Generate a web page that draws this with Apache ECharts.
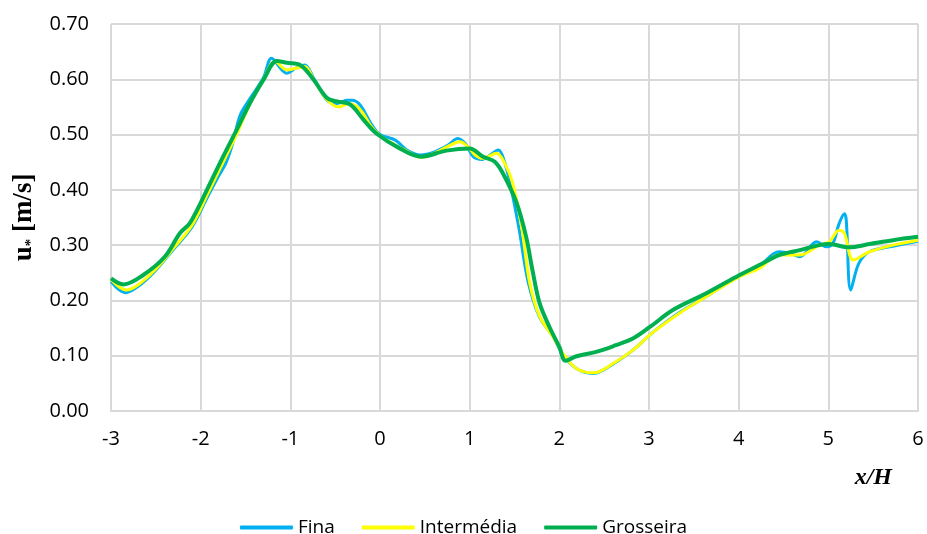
<!DOCTYPE html>
<html>
<head>
<meta charset="utf-8">
<script src="https://cdn.jsdelivr.net/npm/echarts@6/dist/echarts.min.js"></script>
<style>
  html, body { margin: 0; padding: 0; background: #fff; }
  #chart { width: 927px; height: 534px; }
</style>
</head>
<body>
<div id="chart"></div>
<script>
// Friction velocity u* along x/H for three mesh resolutions
const seriesNames = ['Fina', 'Intermédia', 'Grosseira'];
const seriesColors = ['#00b0f0', '#ffff00', '#00b050'];

const finaX = [-3, -2.84, -2.7, -2.51, -2.3, -2.1, -1.93, -1.8, -1.72, -1.65, -1.56, -1.45, -1.3, -1.21, -1.1, -1.04, -0.94, -0.84, -0.74, -0.59, -0.48, -0.37, -0.31, -0.22, -0.1, 0, 0.17, 0.3, 0.45, 0.6, 0.75, 0.87, 0.96, 1.04, 1.14, 1.23, 1.32, 1.38, 1.45, 1.55, 1.65, 1.78, 1.93, 2.04, 2.19, 2.38, 2.6, 2.82, 3.05, 3.34, 3.64, 4.01, 4.23, 4.45, 4.58, 4.68, 4.87, 4.98, 5.05, 5.12, 5.18, 5.2, 5.25, 5.34, 5.46, 5.72, 6];
const finaY = [0.234, 0.214, 0.225, 0.253, 0.293, 0.332, 0.385, 0.425, 0.448, 0.48, 0.535, 0.565, 0.603, 0.638, 0.618, 0.611, 0.62, 0.626, 0.602, 0.562, 0.556, 0.562, 0.562, 0.553, 0.52, 0.5, 0.49, 0.472, 0.463, 0.468, 0.48, 0.493, 0.482, 0.46, 0.455, 0.463, 0.472, 0.455, 0.412, 0.33, 0.235, 0.17, 0.135, 0.102, 0.077, 0.068, 0.085, 0.11, 0.143, 0.178, 0.207, 0.245, 0.262, 0.288, 0.285, 0.279, 0.306, 0.297, 0.303, 0.339, 0.357, 0.345, 0.219, 0.267, 0.288, 0.298, 0.307];

const interX = [-3, -2.83, -2.7, -2.51, -2.3, -2.1, -1.93, -1.75, -1.6, -1.45, -1.3, -1.17, -1.04, -0.94, -0.84, -0.74, -0.6, -0.46, -0.35, -0.22, -0.1, 0, 0.17, 0.3, 0.45, 0.6, 0.75, 0.89, 0.98, 1.06, 1.15, 1.3, 1.4, 1.48, 1.58, 1.67, 1.78, 1.93, 2.04, 2.19, 2.38, 2.6, 2.82, 3.05, 3.34, 3.64, 4.01, 4.23, 4.45, 4.68, 4.9, 5.01, 5.12, 5.18, 5.28, 5.46, 5.72, 6];
const interY = [0.238, 0.219, 0.228, 0.255, 0.295, 0.335, 0.39, 0.45, 0.5, 0.555, 0.6, 0.632, 0.617, 0.62, 0.623, 0.6, 0.565, 0.55, 0.556, 0.545, 0.515, 0.498, 0.481, 0.47, 0.459, 0.466, 0.478, 0.487, 0.478, 0.463, 0.457, 0.466, 0.445, 0.412, 0.333, 0.231, 0.171, 0.134, 0.104, 0.077, 0.069, 0.086, 0.11, 0.143, 0.177, 0.207, 0.243, 0.258, 0.282, 0.282, 0.3, 0.306, 0.327, 0.321, 0.273, 0.288, 0.3, 0.309];

const grossX = [-3, -2.86, -2.64, -2.4, -2.23, -2.12, -1.93, -1.75, -1.6, -1.45, -1.3, -1.15, -1.04, -0.89, -0.74, -0.59, -0.48, -0.33, -0.18, -0.04, 0.22, 0.46, 0.74, 1, 1.15, 1.28, 1.37, 1.52, 1.63, 1.7, 1.78, 1.89, 2, 2.07, 2.19, 2.41, 2.63, 2.82, 3.01, 3.27, 3.64, 4.01, 4.23, 4.45, 4.68, 4.9, 5.01, 5.23, 5.46, 5.72, 6];
const grossY = [0.24, 0.229, 0.246, 0.279, 0.322, 0.34, 0.4, 0.46, 0.508, 0.557, 0.599, 0.633, 0.63, 0.626, 0.599, 0.566, 0.56, 0.554, 0.526, 0.502, 0.475, 0.46, 0.471, 0.475, 0.46, 0.451, 0.43, 0.378, 0.315, 0.255, 0.195, 0.152, 0.116, 0.091, 0.099, 0.107, 0.119, 0.131, 0.152, 0.183, 0.213, 0.246, 0.264, 0.282, 0.291, 0.3, 0.302, 0.296, 0.302, 0.309, 0.315];

const xTicks = [-3, -2, -1, 0, 1, 2, 3, 4, 5, 6];
const yTicks = [0, 0.1, 0.2, 0.3, 0.4, 0.5, 0.6, 0.7];

const pairs = (xs, ys) => xs.map((x, i) => [x, ys[i]]);
const seriesData = [pairs(finaX, finaY), pairs(interX, interY), pairs(grossX, grossY)];
const lineWidths = [3, 3, 4];

const labelFont = '"Open Sans", Lato, sans-serif';
const serifFont = '"Liberation Serif", "DejaVu Serif", serif';
const chart = echarts.init(document.getElementById('chart'), null, { renderer: 'canvas' });

chart.setOption({
  animation: false,
  backgroundColor: '#ffffff',
  grid: { left: 111, right: 9, top: 24, bottom: 123, containLabel: false, outerBoundsMode: 'none' },
  legend: {
    top: 513,
    left: 'center',
    itemWidth: 53,
    itemHeight: 4,
    itemGap: 27,
    icon: 'roundRect',
    textStyle: { fontFamily: labelFont, fontSize: 19, color: '#000', padding: [0, 0, 0, 0] },
    data: seriesNames
  },
  xAxis: {
    type: 'value',
    min: xTicks[0],
    max: xTicks[xTicks.length - 1],
    interval: 1,
    name: 'x/H',
    nameLocation: 'end',
    nameGap: 0,
    nameTextStyle: {
      fontFamily: serifFont,
      fontWeight: 'bold', fontStyle: 'italic', fontSize: 24, color: '#000',
      align: 'right', verticalAlign: 'top', padding: [55, 26, 0, 0]
    },
    axisLine: { show: true, lineStyle: { color: '#d9d9d9', width: 2 } },
    axisTick: { show: false },
    splitLine: { show: true, lineStyle: { color: '#d9d9d9', width: 2 } },
    axisLabel: { fontFamily: labelFont, fontSize: 20, color: '#000', margin: 18 }
  },
  yAxis: {
    type: 'value',
    min: yTicks[0],
    max: yTicks[yTicks.length - 1],
    interval: 0.1,
    name: '{u|u}{s|*}{u| [m/s]}',
    nameLocation: 'middle',
    nameGap: 71,
    nameRotate: 90,
    nameTextStyle: {
      rich: {
        u: { fontFamily: serifFont, fontWeight: 'bold', fontSize: 27, color: '#000' },
        s: { fontFamily: serifFont, fontWeight: 'bold', fontSize: 15, color: '#000', verticalAlign: 'bottom', padding: [14, 0, 0, 0] }
      }
    },
    axisLine: { show: true, lineStyle: { color: '#d9d9d9', width: 2 } },
    axisTick: { show: false },
    splitLine: { show: true, lineStyle: { color: '#d9d9d9', width: 2 } },
    axisLabel: {
      fontFamily: labelFont, fontSize: 20, color: '#000', margin: 22,
      formatter: v => v.toFixed(2)
    }
  },
  series: seriesNames.map((name, i) => ({
    name: name,
    type: 'line',
    data: seriesData[i],
    smooth: 0.35,
    showSymbol: false,
    symbol: 'none',
    lineStyle: { color: seriesColors[i], width: lineWidths[i] },
    itemStyle: { color: seriesColors[i] },
    z: 2 + i
  }))
});
</script>
</body>
</html>
